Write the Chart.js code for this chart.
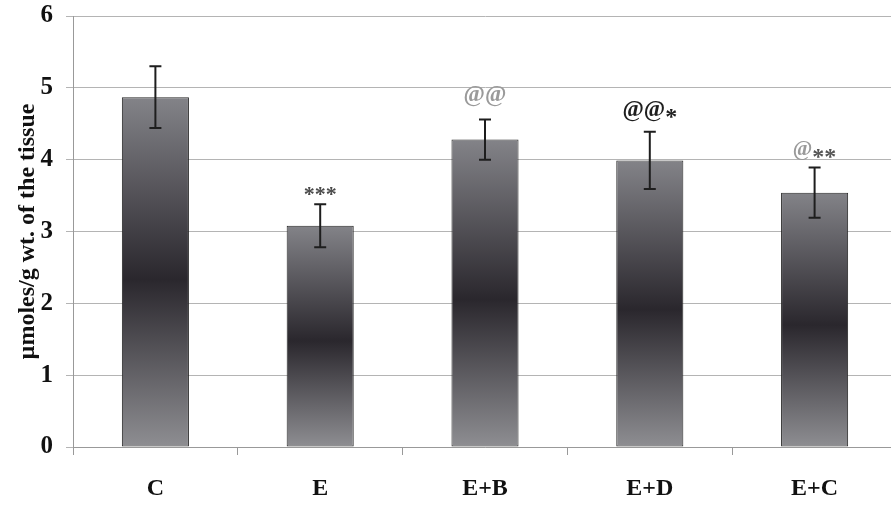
<!DOCTYPE html>
<html><head><meta charset="utf-8">
<script src="https://cdn.jsdelivr.net/npm/chart.js@4"></script>
<style>html,body{margin:0;padding:0;background:#fff;overflow:hidden}#w{width:897px;height:505px}</style>
</head><body><div id="w"><canvas id="c"></canvas></div>
<script>
const categories = ["C", "E", "E+B", "E+D", "E+C"];
const means = [4.87, 3.08, 4.28, 3.99, 3.54];
const errors = [0.43, 0.30, 0.28, 0.40, 0.35];
const yTicks = [0, 1, 2, 3, 4, 5, 6];
// annotation parts: [text, colour, size] per category
const marks = [
  [],
  [["***", "#4a4a4a", 22]],
  [["@@", "#9a9a9a", 23]],
  [["@@", "#1e1e1e", 23], ["*", "#1e1e1e", 24]],
  [["@", "#9a9a9a", 21], ["**", "#555", 24]]
];
const markValues = [null, 3.62, 4.9, 4.69, 4.14];

const serif = "'Liberation Serif', 'DejaVu Serif', serif";

function barGradient(context) {
  const chart = context.chart;
  const ys = chart.scales.y;
  if (!ys || !chart.chartArea) return '#555';
  const v = means[context.dataIndex];
  const top = ys.getPixelForValue(v);
  const bot = ys.getPixelForValue(0);
  if (!isFinite(top) || !isFinite(bot) || top === bot) return '#555';
  const g = chart.ctx.createLinearGradient(0, top, 0, bot);
  g.addColorStop(0, '#838388');
  g.addColorStop(0.52, '#2a272d');
  g.addColorStop(1, '#8e8e92');
  return g;
}

const extras = {
  id: 'extras',
  afterDatasetsDraw(chart) {
    const ctx = chart.ctx, ys = chart.scales.y, xs = chart.scales.x;
    ctx.save();
    ctx.strokeStyle = '#1e1e1e';
    ctx.lineWidth = 2;
    means.forEach((m, i) => {
      const x = xs.getPixelForValue(i);
      const t = ys.getPixelForValue(m + errors[i]);
      const b = ys.getPixelForValue(m - errors[i]);
      ctx.beginPath();
      ctx.moveTo(x, t); ctx.lineTo(x, b);
      ctx.moveTo(x - 6, t); ctx.lineTo(x + 6, t);
      ctx.moveTo(x - 6, b); ctx.lineTo(x + 6, b);
      ctx.stroke();
    });
    ctx.textBaseline = 'middle';
    ctx.textAlign = 'left';
    marks.forEach((parts, i) => {
      if (!parts.length) return;
      const x = xs.getPixelForValue(i);
      const y = ys.getPixelForValue(markValues[i]);
      let total = 0;
      parts.forEach(p => { ctx.font = 'bold ' + p[2] + 'px ' + serif; total += ctx.measureText(p[0]).width; });
      let cx = x - total / 2;
      parts.forEach(p => {
        ctx.font = 'bold ' + p[2] + 'px ' + serif;
        ctx.fillStyle = p[1];
        const dy = p[0].indexOf('*') >= 0 ? 8 : 0;
        ctx.fillText(p[0], cx, y + dy);
        cx += ctx.measureText(p[0]).width;
      });
    });
    ctx.restore();
  }
};

new Chart(document.getElementById('c'), {
  type: 'bar',
  data: {
    labels: categories,
    datasets: [{
      data: means,
      backgroundColor: barGradient,
      borderColor: '#262626',
      borderWidth: 1,
      borderSkipped: false,
      barPercentage: 0.407,
      categoryPercentage: 1
    }]
  },
  options: {
    responsive: true,
    maintainAspectRatio: false,
    animation: false,
    layout: { padding: { top: 16, right: 0, left: 0, bottom: 0 } },
    plugins: { legend: { display: false }, tooltip: { enabled: false } },
    scales: {
      x: {
        offset: true,
        grid: { offset: true, drawOnChartArea: false, display: true, color: '#999', tickLength: 8, tickWidth: 1 },
        border: { display: true, color: '#999', width: 1 },
        ticks: { color: '#111', font: { family: serif, size: 24, weight: 'bold' }, padding: 19 },
        afterFit(s) { s.height = 58; s.paddingLeft = 0; s.paddingRight = 0; }
      },
      y: {
        min: 0, max: 6,
        afterBuildTicks(s) { s.ticks = yTicks.map(v => ({ value: v })); },
        grid: { color: '#b4b4b4', lineWidth: 1, tickLength: 7 },
        border: { display: true, color: '#999', width: 1 },
        ticks: { color: '#111', font: { family: serif, size: 25, weight: 'bold' }, padding: 13 },
        title: { display: true, text: 'µmoles/g wt. of the tissue', color: '#111', font: { family: serif, size: 24, weight: 'bold' }, padding: { top: 13, bottom: 0 } },
        afterFit(s) { s.width = 73; s.paddingTop = 0; s.paddingBottom = 0; }
      }
    }
  },
  plugins: [extras]
});
</script>
</body></html>
